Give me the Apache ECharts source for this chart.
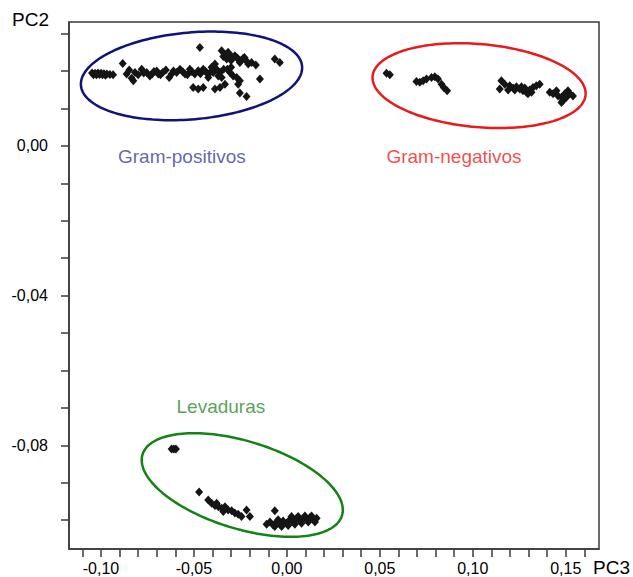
<!DOCTYPE html>
<html>
<head>
<meta charset="utf-8">
<script src="https://cdn.jsdelivr.net/npm/echarts@6/dist/echarts.min.js"></script>
<style>
html,body{margin:0;padding:0;background:#fff;}
#chart{width:633px;height:577px;}
</style>
</head>
<body>
<div id="chart"></div>
<script>
// ---- data ----
const gramPositivos = [
  [-0.1048,0.0195],[-0.1040,0.0190],[-0.1032,0.0194],[-0.1024,0.0190],[-0.1016,0.0195],[-0.1008,0.0191],
  [-0.1000,0.0194],[-0.0992,0.0190],[-0.0984,0.0193],[-0.0976,0.0189],[-0.0968,0.0192],[-0.0952,0.0191],[-0.0935,0.0190],
  [-0.0883,0.0220],[-0.0862,0.0192],[-0.0848,0.0203],[-0.0835,0.0181],[-0.0826,0.0174],[-0.0817,0.0196],
  [-0.0800,0.0190],[-0.0781,0.0205],[-0.0770,0.0195],[-0.0754,0.0196],[-0.0737,0.0187],[-0.0725,0.0192],
  [-0.0715,0.0199],[-0.0700,0.0200],[-0.0692,0.0192],[-0.0680,0.0190],[-0.0668,0.0196],[-0.0651,0.0203],
  [-0.0633,0.0183],[-0.0620,0.0192],[-0.0610,0.0200],[-0.0593,0.0196],[-0.0575,0.0205],[-0.0560,0.0198],
  [-0.0548,0.0192],[-0.0535,0.0190],[-0.0522,0.0205],[-0.0510,0.0198],[-0.0495,0.0192],[-0.0477,0.0201],
  [-0.0465,0.0193],[-0.0450,0.0205],[-0.0440,0.0200],[-0.0432,0.0196],[-0.0415,0.0195],[-0.0405,0.0210],
  [-0.0396,0.0196],[-0.0387,0.0219],[-0.0378,0.0205],[-0.0369,0.0187],[-0.0360,0.0197],[-0.0423,0.0183],
  [-0.0351,0.0183],[-0.0340,0.0205],
  [-0.0468,0.0263],
  [-0.0351,0.0254],[-0.0342,0.0239],[-0.0333,0.0245],[-0.0324,0.0232],[-0.0316,0.0250],[-0.0300,0.0228],
  [-0.0297,0.0239],[-0.0280,0.0241],[-0.0270,0.0236],[-0.0262,0.0232],[-0.0253,0.0223],[-0.0245,0.0229],
  [-0.0235,0.0234],[-0.0228,0.0236],[-0.0217,0.0227],[-0.0208,0.0219],[-0.0190,0.0223],[-0.0167,0.0216],
  [-0.0065,0.0232],[-0.0038,0.0223],
  [-0.0320,0.0205],[-0.0306,0.0196],[-0.0300,0.0210],[-0.0289,0.0187],[-0.0270,0.0183],[-0.0253,0.0174],
  [-0.0262,0.0165],[-0.0145,0.0179],
  [-0.0504,0.0156],[-0.0477,0.0152],[-0.0450,0.0156],[-0.0387,0.0152],[-0.0360,0.0156],[-0.0333,0.0165],
  [-0.0253,0.0141],[-0.0217,0.0132]
];
const gramNegativos = [
  [0.0536,0.0194],[0.0554,0.0190],
  [0.0697,0.0172],[0.0715,0.0170],[0.0733,0.0174],[0.0751,0.0179],[0.0778,0.0183],[0.0796,0.0185],
  [0.0813,0.0179],[0.0832,0.0165],[0.0844,0.0156],[0.0862,0.0147],
  [0.1154,0.0174],[0.1172,0.0165],[0.1145,0.0152],[0.1190,0.0149],[0.1199,0.0161],[0.1217,0.0155],
  [0.1226,0.0149],[0.1235,0.0158],[0.1253,0.0152],[0.1262,0.0158],[0.1270,0.0147],[0.1280,0.0155],
  [0.1289,0.0143],[0.1297,0.0139],[0.1306,0.0149],[0.1316,0.0143],[0.1324,0.0156],[0.1342,0.0161],[0.1360,0.0165],
  [0.1414,0.0143],[0.1432,0.0139],[0.1450,0.0147],[0.1459,0.0133],[0.1477,0.0130],[0.1486,0.0121],
  [0.1495,0.0139],[0.1504,0.0130],[0.1512,0.0147],[0.1522,0.0139],[0.1539,0.0133],[0.1477,0.0116]
];
const levaduras = [
  [-0.0620,-0.0810],[-0.0608,-0.0810],[-0.0597,-0.0810],
  [-0.0472,-0.0925],[-0.0423,-0.0946],[-0.0405,-0.0955],[-0.0387,-0.0961],[-0.0378,-0.0955],[-0.0369,-0.0964],
  [-0.0351,-0.0968],[-0.0342,-0.0977],[-0.0333,-0.0964],[-0.0316,-0.0973],[-0.0297,-0.0975],[-0.0280,-0.0981],
  [-0.0262,-0.0984],[-0.0244,-0.0990],[-0.0217,-0.0973],[-0.0199,-0.0990],
  [-0.0065,-0.0975],
  [-0.0109,-0.1011],[-0.0091,-0.1005],[-0.0074,-0.1013],[-0.0065,-0.1017],[-0.0055,-0.1005],[-0.0047,-0.0999],
  [-0.0038,-0.1011],[-0.0028,-0.1017],[-0.0020,-0.1002],[-0.0002,-0.1008],[0.0007,-0.1014],[0.0016,-0.0999],
  [0.0025,-0.0990],[0.0034,-0.1005],[0.0043,-0.1011],[0.0052,-0.0995],[0.0061,-0.0990],[0.0070,-0.1002],
  [0.0079,-0.1008],[0.0088,-0.0995],[0.0097,-0.0989],[0.0106,-0.0999],[0.0115,-0.1005],[0.0124,-0.0993],
  [0.0133,-0.0989],[0.0142,-0.0999],[0.0151,-0.1005],[0.0160,-0.0995]
];
// group ellipses: [centerX, centerY, semiAxisX, semiAxisY, angleDeg]
const ellipsePositivos = [-0.0513, 0.0187, 0.0597, 0.0116, 5];
const ellipseNegativos = [0.1034, 0.0161, 0.0575, 0.0111, -5];
const ellipseLevaduras = [-0.0240, -0.0906, 0.0561, 0.0117, -17];
// group label anchors
const groupNames = ['Gram-positivos', 'Gram-negativos', 'Levaduras'];
const groupLabelPos = [[-0.0565, -0.0029], [0.0899, -0.0029], [-0.0355, -0.0697]];
// axis ticks and labels
const xTicks = [-0.11,-0.10,-0.09,-0.08,-0.07,-0.06,-0.05,-0.04,-0.03,-0.02,-0.01,0,0.01,0.02,0.03,0.04,0.05,0.06,0.07,0.08,0.09,0.10,0.11,0.12,0.13,0.14,0.15,0.16];
const xTickLabels = [-0.10,-0.05,0,0.05,0.10,0.15];
const yTicks = [-0.10,-0.09,-0.08,-0.07,-0.06,-0.05,-0.04,-0.03,-0.02,-0.01,0,0.01,0.02,0.03];
const yTickLabels = [-0.08,-0.04,0];
const xName = 'PC3', yName = 'PC2';

// ---- chart ----
const FONT = '"Liberation Sans", Arial, sans-serif';
const groupColors = ['#3b3b9c', '#ee1c1c', '#2a8a2a'];
const ellipseColors = ['#12127c', '#ea1a1a', '#138313'];
const fmt = v => Number(v).toFixed(2).replace('.', ',');

function ellipseSeries(params, color) {
  return {
    type: 'custom', silent: true, z: 1,
    data: [params],
    renderItem: function (p, api) {
      const c = api.coord([api.value(0), api.value(1)]);
      const s = api.size([api.value(2), api.value(3)]);
      const ang = -api.value(4) * Math.PI / 180;
      const pts = [];
      for (let i = 0; i < 180; i++) {
        const t = i / 180 * Math.PI * 2;
        const ex = s[0] * Math.cos(t), ey = s[1] * Math.sin(t);
        pts.push([c[0] + ex * Math.cos(ang) - ey * Math.sin(ang), c[1] + ex * Math.sin(ang) + ey * Math.cos(ang)]);
      }
      return { type: 'polygon', shape: { points: pts }, style: { fill: 'none', stroke: color, lineWidth: 2.5 } };
    }
  };
}
function pointSeries(name, data) {
  return {
    name: name, type: 'scatter', data: data, symbol: 'diamond', symbolSize: [8, 9], z: 3,
    itemStyle: { color: '#151515', opacity: 1 }
  };
}

const chart = echarts.init(document.getElementById('chart'), null, { renderer: 'svg' });
chart.setOption({
  animation: false,
  backgroundColor: '#fff',
  grid: { left: 69, right: 34, top: 22, bottom: 28, show: true, borderColor: '#3a3a3a', borderWidth: 1.5, backgroundColor: 'transparent' },
  xAxis: {
    type: 'value', min: -0.1172, max: 0.1679,
    axisLine: { onZero: false, lineStyle: { color: '#3a3a3a', width: 1.5 } },
    axisTick: { show: true, length: 8, inside: false, customValues: xTicks, lineStyle: { color: '#3a3a3a', width: 1.5 } },
    axisLabel: { customValues: xTickLabels, formatter: fmt, margin: 11, color: '#000', fontSize: 16, fontFamily: FONT },
    splitLine: { show: false }
  },
  yAxis: {
    type: 'value', min: -0.1077, max: 0.0331,
    axisLine: { onZero: false, lineStyle: { color: '#3a3a3a', width: 1.5 } },
    axisTick: { show: true, length: 8, inside: false, customValues: yTicks, lineStyle: { color: '#3a3a3a', width: 1.5 } },
    axisLabel: { customValues: yTickLabels, formatter: fmt, margin: 21, color: '#000', fontSize: 16, fontFamily: FONT },
    splitLine: { show: false }
  },
  graphic: [
    { type: 'text', left: 12, top: 10, style: { text: yName, fontSize: 19, fontFamily: FONT, fill: '#000' } },
    { type: 'text', left: 593, top: 558, style: { text: xName, fontSize: 19, fontFamily: FONT, fill: '#000' } }
  ],
  series: [
    ellipseSeries(ellipsePositivos, ellipseColors[0]),
    ellipseSeries(ellipseNegativos, ellipseColors[1]),
    ellipseSeries(ellipseLevaduras, ellipseColors[2]),
    pointSeries(groupNames[0], gramPositivos),
    pointSeries(groupNames[1], gramNegativos),
    pointSeries(groupNames[2], levaduras),
    {
      type: 'scatter', silent: true, symbolSize: 0, z: 4,
      data: groupNames.map((n, i) => ({
        value: groupLabelPos[i], name: n,
        label: { show: true, position: 'inside', formatter: n, color: groupColors[i], fontSize: 19, fontFamily: FONT }
      }))
    }
  ]
});
</script>
</body>
</html>
